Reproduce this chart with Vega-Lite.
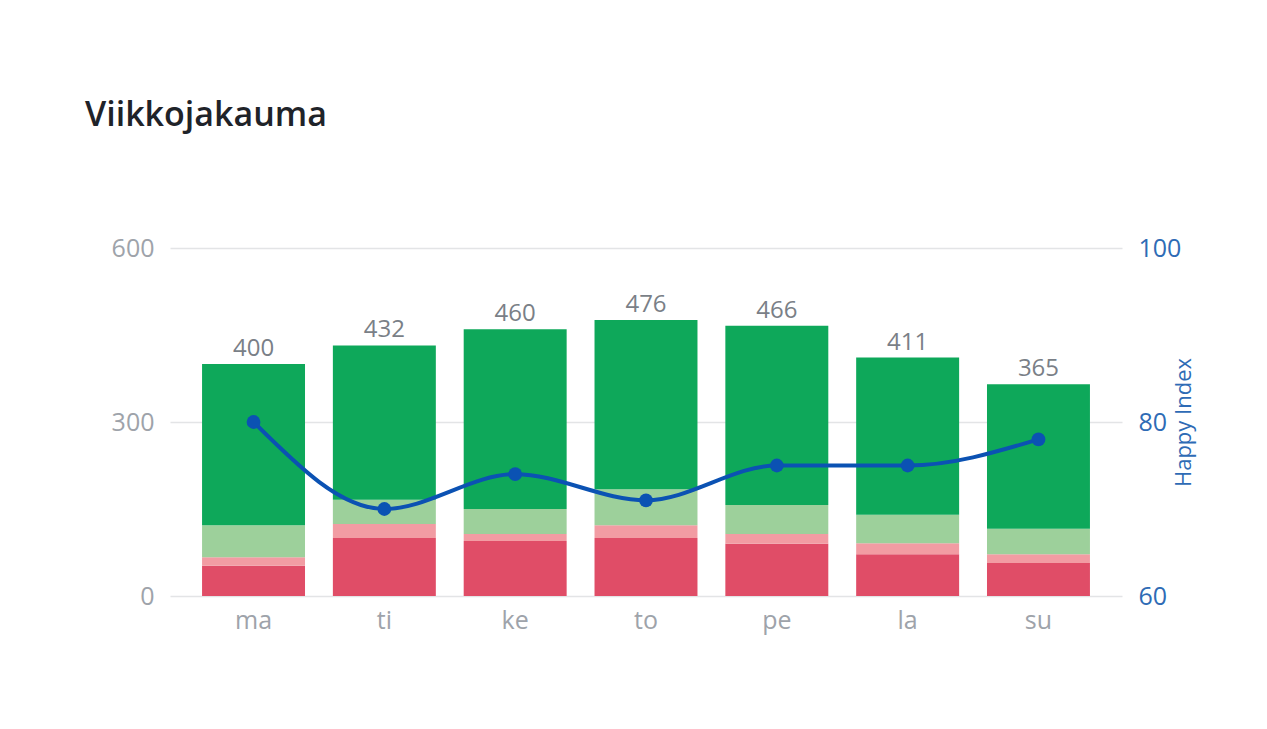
{
  "$schema": "https://vega.github.io/schema/vega-lite/v6.json",
  "width": 952,
  "height": 348,
  "autosize": {"type": "none"},
  "padding": {"left": 170, "top": 248, "right": 145, "bottom": 133},
  "background": "white",
  "config": {
    "view": {"stroke": null},
    "font": "Open Sans"
  },
  "title": {
    "text": "Viikkojakauma",
    "anchor": "start",
    "frame": "group",
    "fontSize": 34,
    "fontWeight": 600,
    "font": "Open Sans",
    "color": "#1f2329",
    "baseline": "alphabetic",
    "dx": -85,
    "offset": 76
  },
  "datasets": {
    "segments": [
      {"day": "ma", "luokka": "Huono", "taso": 1, "maara": 52},
      {"day": "ma", "luokka": "Melko huono", "taso": 2, "maara": 15},
      {"day": "ma", "luokka": "Melko hyvä", "taso": 3, "maara": 55},
      {"day": "ma", "luokka": "Hyvä", "taso": 4, "maara": 278},
      {"day": "ti", "luokka": "Huono", "taso": 1, "maara": 100},
      {"day": "ti", "luokka": "Melko huono", "taso": 2, "maara": 24},
      {"day": "ti", "luokka": "Melko hyvä", "taso": 3, "maara": 42},
      {"day": "ti", "luokka": "Hyvä", "taso": 4, "maara": 266},
      {"day": "ke", "luokka": "Huono", "taso": 1, "maara": 95},
      {"day": "ke", "luokka": "Melko huono", "taso": 2, "maara": 12},
      {"day": "ke", "luokka": "Melko hyvä", "taso": 3, "maara": 43},
      {"day": "ke", "luokka": "Hyvä", "taso": 4, "maara": 310},
      {"day": "to", "luokka": "Huono", "taso": 1, "maara": 100},
      {"day": "to", "luokka": "Melko huono", "taso": 2, "maara": 22},
      {"day": "to", "luokka": "Melko hyvä", "taso": 3, "maara": 62},
      {"day": "to", "luokka": "Hyvä", "taso": 4, "maara": 292},
      {"day": "pe", "luokka": "Huono", "taso": 1, "maara": 90},
      {"day": "pe", "luokka": "Melko huono", "taso": 2, "maara": 17},
      {"day": "pe", "luokka": "Melko hyvä", "taso": 3, "maara": 50},
      {"day": "pe", "luokka": "Hyvä", "taso": 4, "maara": 309},
      {"day": "la", "luokka": "Huono", "taso": 1, "maara": 72},
      {"day": "la", "luokka": "Melko huono", "taso": 2, "maara": 19},
      {"day": "la", "luokka": "Melko hyvä", "taso": 3, "maara": 49},
      {"day": "la", "luokka": "Hyvä", "taso": 4, "maara": 271},
      {"day": "su", "luokka": "Huono", "taso": 1, "maara": 57},
      {"day": "su", "luokka": "Melko huono", "taso": 2, "maara": 15},
      {"day": "su", "luokka": "Melko hyvä", "taso": 3, "maara": 44},
      {"day": "su", "luokka": "Hyvä", "taso": 4, "maara": 249}
    ],
    "days": [
      {"day": "ma", "total": 400, "happy": 80},
      {"day": "ti", "total": 432, "happy": 70},
      {"day": "ke", "total": 460, "happy": 74},
      {"day": "to", "total": 476, "happy": 71},
      {"day": "pe", "total": 466, "happy": 75},
      {"day": "la", "total": 411, "happy": 75},
      {"day": "su", "total": 365, "happy": 78}
    ]
  },
  "encoding": {
    "x": {
      "field": "day",
      "type": "nominal",
      "sort": ["ma", "ti", "ke", "to", "pe", "la", "su"],
      "scale": {"paddingInner": 0.213, "paddingOuter": 0.245},
      "axis": {
        "title": null,
        "labelAngle": 0,
        "labelFontSize": 25,
        "labelColor": "#9ea3aa",
        "labelPadding": 12,
        "ticks": false,
        "domain": false
      }
    }
  },
  "layer": [
    {
      "layer": [
        {
          "data": {"name": "segments"},
          "mark": {"type": "bar"},
          "encoding": {
            "y": {
              "field": "maara",
              "type": "quantitative",
              "stack": "zero",
              "scale": {"domain": [0, 600]},
              "axis": {
                "title": null,
                "values": [0, 300, 600],
                "labelFontSize": 25,
                "labelColor": "#9ea3aa",
                "labelPadding": 16,
                "ticks": false,
                "domain": false,
                "gridColor": "#e3e4e6",
                "gridWidth": 1.5
              }
            },
            "color": {
              "field": "luokka",
              "type": "nominal",
              "scale": {
                "domain": ["Huono", "Melko huono", "Melko hyvä", "Hyvä"],
                "range": ["#e04d67", "#f29ca3", "#9dd09b", "#0ea85a"]
              },
              "legend": null
            },
            "order": {"field": "taso", "type": "quantitative", "sort": "ascending"}
          }
        },
        {
          "data": {"name": "days"},
          "mark": {
            "type": "text",
            "baseline": "alphabetic",
            "dy": -8,
            "fontSize": 24,
            "color": "#7a7f87"
          },
          "encoding": {
            "y": {"field": "total", "type": "quantitative"},
            "text": {"field": "total", "type": "quantitative"}
          }
        }
      ]
    },
    {
      "data": {"name": "days"},
      "mark": {
        "type": "line",
        "interpolate": "monotone",
        "color": "#0b52b3",
        "strokeWidth": 4,
        "point": {"filled": true, "size": 190, "color": "#0b52b3"}
      },
      "encoding": {
        "y": {
          "field": "happy",
          "type": "quantitative",
          "scale": {"domain": [60, 100], "zero": false},
          "axis": {
            "orient": "right",
            "title": "Happy Index",
            "titleColor": "#2e6bb5",
            "titleFontSize": 22,
            "titleFontWeight": "normal",
            "titleAngle": -90,
            "titleX": 61,
            "titleY": 174,
            "titleAlign": "center",
            "titleBaseline": "middle",
            "values": [60, 80, 100],
            "labelFontSize": 25,
            "labelColor": "#2e6bb5",
            "labelPadding": 16,
            "ticks": false,
            "domain": false,
            "grid": false
          }
        }
      }
    }
  ],
  "resolve": {"scale": {"y": "independent"}}
}
